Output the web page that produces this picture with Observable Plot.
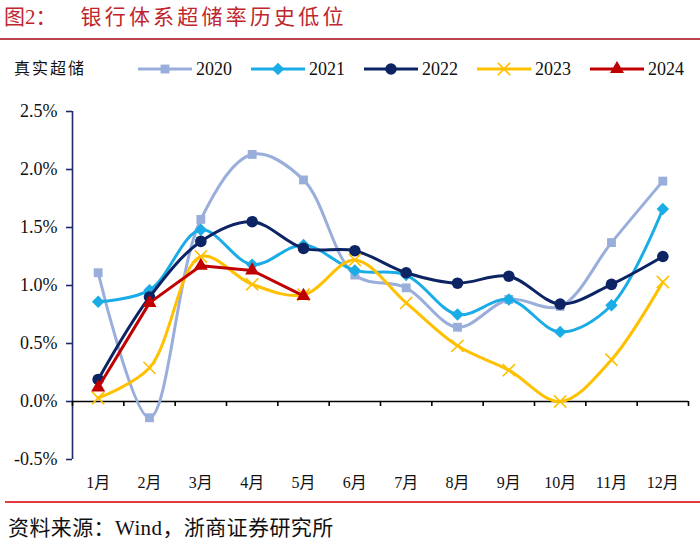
<!DOCTYPE html>
<html><head><meta charset="utf-8">
<script src="https://cdn.jsdelivr.net/npm/d3@7"></script>
<script src="https://cdn.jsdelivr.net/npm/@observablehq/plot@0.6"></script>
<style>
body{margin:0;background:#fff;}
#root{position:relative;width:700px;height:544px;overflow:hidden;font-family:"Liberation Serif","Noto Sans CJK SC",serif;color:#111;}
#title{position:absolute;left:4px;top:0;line-height:34px;font-size:21px;color:#c0262d;white-space:nowrap;}
#title .t2{margin-left:24px;letter-spacing:3.2px;}
#tline{position:absolute;left:0;top:38px;width:700px;height:2px;background:#b8464b;}
#legend{position:absolute;top:57px;left:14px;height:24px;line-height:24px;display:flex;align-items:center;white-space:nowrap;}
#legend .lab{font-size:16px;letter-spacing:2px;margin-right:52px;}
#legend .item{display:flex;align-items:center;margin-right:19px;}
#legend .item span{font-size:18px;margin-left:4px;}
#chart{position:absolute;left:0;top:92px;}
#cline{position:absolute;left:5px;top:501px;width:695px;height:1.5px;background:#e23a3f;}
#caption{position:absolute;left:8px;top:514px;line-height:28px;font-size:21px;letter-spacing:0.4px;white-space:nowrap;}
</style>
</head><body>
<div id="root">
  <div id="title">图2：<span class="t2">银行体系超储率历史低位</span></div>
  <div id="tline"></div>
  <div id="legend"></div>
  <div id="chart"></div>
  <div id="cline"></div>
  <div id="caption">资料来源：Wind，浙商证券研究所</div>
</div>
<script>
// ---- data ----
const months = [1,2,3,4,5,6,7,8,9,10,11,12];
const monthSuffix = "月";
const years = ["2020","2021","2022","2023","2024"];
const v2020 = [1.11,-0.14,1.57,2.13,1.91,1.09,0.98,0.64,0.88,0.82,1.37,1.90];
const v2021 = [0.86,0.96,1.48,1.18,1.35,1.13,1.09,0.75,0.88,0.60,0.83,1.66];
const v2022 = [0.19,0.90,1.38,1.55,1.32,1.30,1.11,1.02,1.08,0.84,1.01,1.25];
const v2023 = [0.03,0.29,1.25,1.01,0.92,1.22,0.85,0.48,0.27,0.00,0.36,1.03];
const v2024 = [0.12,0.85,1.17,1.13,0.91];
const yTicks = [-0.5,0.0,0.5,1.0,1.5,2.0,2.5];
const legendTitle = "真实超储";

// ---- styles ----
const series = [v2020,v2021,v2022,v2023,v2024];
const colors = ["#9aaedb","#1aace6","#0c2463","#ffc000","#c00000"];
const symbols = ["square","diamond2","circle","times","triangle"];
const curves = ["catmull-rom","catmull-rom","catmull-rom","catmull-rom","linear"];
const radii = [5,5.6,5.8,5.6,5.2];
const navy = "#1f2a6b";

const rows = years.map((y,i)=>series[i].map((v,j)=>({year:y, month:months[j], value:v})));

const xDomain = [months[0]-0.5, months[months.length-1]+0.5];
const yDomain = [yTicks[0], yTicks[yTicks.length-1]];
const boundaries = d3.range(months.length+1).map(i=>xDomain[0]+i);

const W = 700, H = 408, mT = 19, mB = 41, mL = 72, mR = 12;
const tickUnits = (yDomain[1]-yDomain[0])/(H-mT-mB)*5;

const marks = [
  Plot.ruleX([xDomain[0]], {y1: yDomain[0], y2: yDomain[1], stroke: navy, strokeWidth: 1.6}),
  Plot.axisY(yTicks, {anchor:"left", label:null, tickSize:6, tickPadding:9, tickFormat: d=>d.toFixed(1)+"%", fontSize:18, stroke: navy, strokeWidth:1.6, fill:"#111"}),
  Plot.ruleY([0], {x1: xDomain[0], x2: xDomain[1], stroke:"#000", strokeWidth:1.6}),
  Plot.ruleX(boundaries, {x: d=>d, y1: 0, y2: -tickUnits, stroke:"#000", strokeWidth:1.6}),
  Plot.axisX(months, {anchor:"bottom", label:null, tickSize:0, tickPadding:17, tickFormat: d=>d+monthSuffix, fontSize:16, fill:"#111"})
];
years.forEach((y,i)=>{
  marks.push(Plot.line(rows[i], {x:"month", y:"value", stroke: colors[i], strokeWidth:3, curve: curves[i]}));
  const isStroke = symbols[i]==="times";
  marks.push(Plot.dot(rows[i], {x:"month", y:"value", symbol: symbols[i], r: radii[i],
    fill: isStroke ? "none" : colors[i], stroke: isStroke ? colors[i] : "none", strokeWidth: isStroke ? 1.6 : 0}));
});

const chart = Plot.plot({
  width: W, height: H, marginTop: mT, marginBottom: mB, marginLeft: mL, marginRight: mR,
  style: {fontFamily: '"Liberation Serif","Noto Sans CJK SC",serif', background:"#fff", color:"#111"},
  x: {type:"linear", domain: xDomain, label: null},
  y: {type:"linear", domain: yDomain, label: null},
  marks
});
document.getElementById("chart").appendChild(chart);

// ---- legend ----
const legend = document.getElementById("legend");
const lab = document.createElement("div"); lab.className="lab"; lab.textContent = legendTitle; legend.appendChild(lab);
years.forEach((y,i)=>{
  const item = document.createElement("div"); item.className="item";
  const svg = d3.create("svg").attr("width",54).attr("height",16);
  svg.append("line").attr("x1",0).attr("x2",54).attr("y1",8).attr("y2",8).attr("stroke",colors[i]).attr("stroke-width",3);
  const sym = {square:d3.symbolSquare, diamond2:d3.symbolDiamond2, circle:d3.symbolCircle, times:d3.symbolTimes, triangle:d3.symbolTriangle}[symbols[i]];
  const p = svg.append("path").attr("transform","translate(27,8)").attr("d", d3.symbol(sym, Math.PI*radii[i]*radii[i])());
  if (symbols[i]==="times") p.attr("fill","none").attr("stroke",colors[i]).attr("stroke-width",1.6);
  else p.attr("fill",colors[i]);
  item.appendChild(svg.node());
  const s = document.createElement("span"); s.textContent = y; item.appendChild(s);
  legend.appendChild(item);
});
</script>
</body></html>
